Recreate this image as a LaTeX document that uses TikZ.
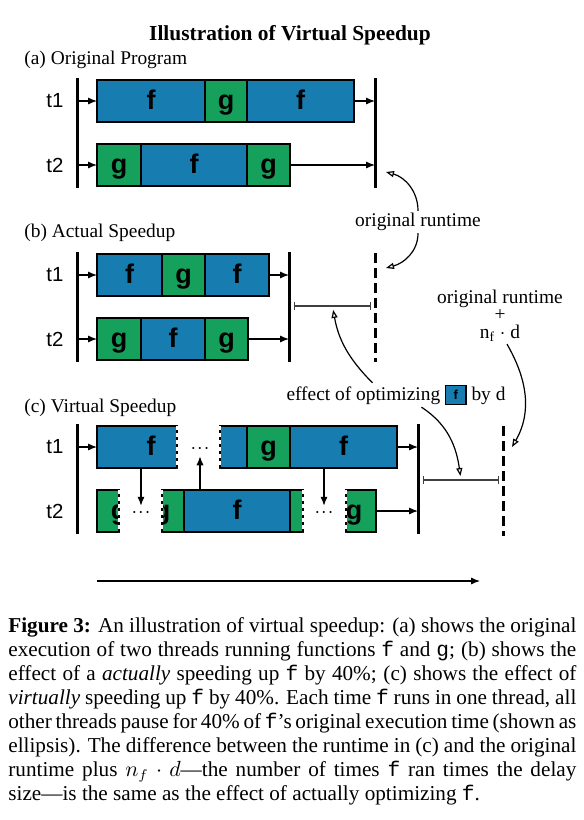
\documentclass[tikz,border=0pt]{standalone}
\usepackage{fontspec}
\setmainfont{Liberation Serif}
\setsansfont{Liberation Sans}
\setmonofont{Liberation Mono}
\usetikzlibrary{arrows.meta,calc}

\definecolor{fblue}{HTML}{177CB0}
\definecolor{ggreen}{HTML}{15A05C}

\newcommand{\segfont}{\sffamily\bfseries\fontsize{13.5}{15}\selectfont}
\newcommand{\notefont}{\fontsize{9.7}{11.6}\selectfont}
\newcommand{\fchip}{{\setlength{\fboxsep}{0.5pt}\setlength{\fboxrule}{0.6pt}%
  \fcolorbox{black}{fblue}{\parbox[c][7.6pt][c]{8.6pt}{\centering\sffamily\bfseries\fontsize{6.5}{7}\selectfont f}}}}
\newcommand{\pausedots}{$\mathord{\cdot}\mkern1mu\mathord{\cdot}\mkern1mu\mathord{\cdot}$}

\tikzset{
  seg/.style={draw, line width=1pt, inner sep=0pt, outer sep=0pt, minimum height=21pt,
              anchor=west, font=\segfont, text height=9.8pt, text depth=1.8pt},
  fseg/.style={seg, fill=fblue, minimum width=#1*0.5pt},
  gseg/.style={seg, fill=ggreen, minimum width=#1*0.5pt},
  segtext/.style={inner sep=0pt, font=\segfont, text height=9.8pt, text depth=1.8pt},
  tlab/.style={font=\sffamily\fontsize{10.2}{12}\selectfont, inner sep=0pt},
  note/.style={font=\notefont, inner sep=1pt},
  pause/.style={font=\notefont, inner sep=1.2pt},
  bar/.style={line width=1.5pt},
  dbar/.style={line width=1.5pt, dash pattern=on 5pt off 2.5pt},
  cut/.style={white, line width=1pt, dash pattern=on 1.75pt off 1.75pt},
  flow/.style={-{Latex[length=4.5pt,width=3.6pt]}, line width=0.65pt},
  span/.style={{Bar[width=4pt]}-{Bar[width=4pt]}, line width=0.6pt, black!75},
  pointer/.style={-{Triangle[open,length=4pt,width=3pt]}, line width=0.6pt},
}

\begin{document}
\begin{tikzpicture}[x=0.5pt, y=-0.5pt]
  \useasboundingbox (0,0) rectangle (584,820);

  \node[font=\bfseries\fontsize{10.7}{12}\selectfont, inner sep=0pt] (title) at (290,35) {Illustration of Virtual Speedup};

  \node[note, anchor=west, inner sep=0pt] (secA) at (24,60) {(a) Original Program};
  \node[tlab] (at1) at (55,101) {t1};
  \node[tlab] (at2) at (55,165) {t2};
  \node[fseg=108] (a11) at (97,101) {f};
  \node[gseg=42]  (a12) at (205,101) {g};
  \node[fseg=107] (a13) at (247,101) {f};
  \node[gseg=44]  (a21) at (97,165) {g};
  \node[fseg=106] (a22) at (141,165) {f};
  \node[gseg=43]  (a23) at (247,165) {g};
  \coordinate (aL1) at (77,78);  \coordinate (aL2) at (77,188);
  \coordinate (aR1) at (375,78); \coordinate (aR2) at (375,188);

  \node[note, anchor=west, inner sep=0pt] (secB) at (24,233) {(b) Actual Speedup};
  \node[tlab] (bt1) at (55,275) {t1};
  \node[tlab] (bt2) at (55,339) {t2};
  \node[fseg=65] (b11) at (97,275) {f};
  \node[gseg=43] (b12) at (162,275) {g};
  \node[fseg=64] (b13) at (205,275) {f};
  \node[gseg=44] (b21) at (97,339) {g};
  \node[fseg=64] (b22) at (141,339) {f};
  \node[gseg=43] (b23) at (205,339) {g};
  \coordinate (bL1) at (77,252);  \coordinate (bL2) at (77,362);
  \coordinate (bR1) at (289,252); \coordinate (bR2) at (289,362);
  \coordinate (bD1) at (375,253); \coordinate (bD2) at (375,362);
  \coordinate (bS) at (294,306);  \coordinate (bE) at (371,306);

  \node[note, anchor=west, inner sep=0pt] (secC) at (24,408) {(c) Virtual Speedup};
  \node[tlab] (ct1) at (55,447) {t1};
  \node[tlab] (ct2) at (55,511) {t2};
  \node[fseg=80]  (c11) at (97,447) {};
  \node[segtext]  (c11t) at (151,447) {f};
  \node[pause]    (cd11) at (200,449) {\pausedots};
  \node[fseg=27]  (c12) at (220,447) {};
  \node[gseg=43]  (c13) at (247,447) {g};
  \node[fseg=107] (c14) at (290,447) {f};
  \node[gseg=22]  (c21) at (97,511) {};
  \node[pause]    (cd21) at (141,513) {\pausedots};
  \node[gseg=22]  (c22) at (162,511) {};
  \node[fseg=106] (c23) at (184,511) {f};
  \node[gseg=13]  (c24) at (290,511) {};
  \node[pause]    (cd22) at (324,513) {\pausedots};
  \node[gseg=30]  (c25) at (346,511) {};
  \foreach \n/\x in {c21/119, c22/162, c25/354} {
    \begin{scope}
      \clip (\n.south west) rectangle (\n.north east);
      \node[segtext] (\n t) at (\x,511) {g};
    \end{scope}
  }
  \foreach \n in {c11,c21,c24}
    \draw[cut] (\n.north east) -- (\n.south east);
  \foreach \n in {c12,c22,c25}
    \draw[cut] (\n.north west) -- (\n.south west);
  \coordinate (cL1) at (77,424);  \coordinate (cL2) at (77,534);
  \coordinate (cR1) at (418,424); \coordinate (cR2) at (418,534);
  \coordinate (cD1) at (503,426); \coordinate (cD2) at (503,536);
  \coordinate (cS) at (423,480);  \coordinate (cE) at (499,480);

  \foreach \n in {aL,aR,bL,bR,cL,cR}
    \draw[bar] (\n1) -- (\n2);
  \foreach \n in {bD,cD}
    \draw[dbar] (\n1) -- (\n2);

  \foreach \L/\first in {aL1/a11, aL1/a21, bL1/b11, bL1/b21, cL1/c11}
    \draw[flow] (\L |- \first.west) -- (\first.west);
  \foreach \R/\last in {aR1/a13, aR1/a23, bR1/b13, bR1/b23, cR1/c14, cR1/c25}
    \draw[flow] (\last.east) -- (\last.east -| \R);

  \draw[flow] (c11.south -| cd21) -- (cd21.north);
  \draw[flow] (c23.north -| cd11) -- (cd11.south);
  \draw[flow] (c14.south -| cd22) -- (cd22.north);

  \draw[span] (bS) -- (bE);
  \draw[span] (cS) -- (cE);
  \coordinate (bMid) at ($(bS)!.5!(bE)$);
  \coordinate (cMid) at ($(cS)!.5!(cE)$);

  \node[note] (orig) at (418,222) {original runtime};
  \coordinate (aTip) at (386,172);
  \coordinate (bTip) at (386,268);
  \draw[pointer] (orig.north) to[out=90, in=-15] (aTip);
  \draw[pointer] (orig.south) to[out=-90, in=15] (bTip);

  \node[note] (eff) at (396,395) {effect of optimizing \fchip{} by d};
  \draw[pointer, shorten >=2pt] ([xshift=-11.75pt]eff.north) to[out=135, in=-80] (bMid);
  \draw[pointer, shorten >=2pt] ([xshift=12.75pt]eff.south) to[out=-33, in=98] (cMid);

  \node[note, align=center] (ortd) at (500,316) {original runtime\\[-3.3pt]+\\[-2.4pt]n\textsubscript{f} $\cdot$ d};
  \coordinate (cTip) at (512,447);
  \draw[pointer] ([xshift=3.5pt]ortd.south) to[out=-60, in=60] (cTip);

  \coordinate (tl0) at (97,581);
  \coordinate (tl1) at (480,581);
  \draw[flow, line width=0.6pt] (tl0) -- (tl1);

  \node[anchor=north west, inner sep=0pt, font=\fontsize{10.6}{12}\selectfont] (cap) at (8,617) {\parbox{284pt}{%
    \hbox to 284pt{\textbf{Figure 3:} An illustration of virtual speedup: (a) shows the original}%
    \hbox to 284pt{execution of two threads running functions \texttt{f} and \texttt{g}; (b) shows the}%
    \hbox to 284pt{effect of a \textit{actually} speeding up \texttt{f} by 40\%; (c) shows the effect of}%
    \hbox to 284pt{\textit{virtually} speeding up \texttt{f} by 40\%. Each time \texttt{f} runs in one thread, all}%
    \hbox to 284pt{other threads pause for 40\% of \texttt{f}'s original execution time (shown as}%
    \hbox to 284pt{ellipsis). The difference between the runtime in (c) and the original}%
    \hbox to 284pt{runtime plus $n_f\cdot d$---the number of times \texttt{f} ran times the delay}%
    \hbox{size---is the same as the effect of actually optimizing \texttt{f}.}}};
\end{tikzpicture}
\end{document}
